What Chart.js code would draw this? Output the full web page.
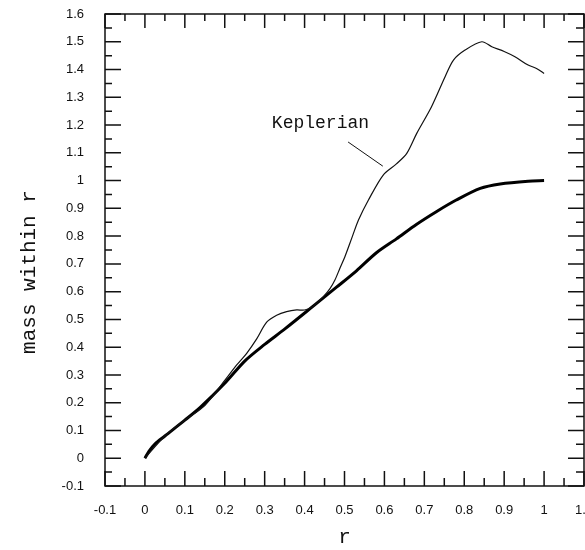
<!DOCTYPE html>
<html>
<head>
<meta charset="utf-8">
<script src="https://cdn.jsdelivr.net/npm/chart.js@4"></script>
<style>
  html, body { margin: 0; padding: 0; background: #fff; }
  #wrap { width: 585px; height: 550px; }
</style>
</head>
<body>
<div id="wrap"><canvas id="myChart" width="585" height="550"></canvas></div>
<script>
// thin curve (Keplerian estimate)
const rKep = [0, 0.05, 0.1, 0.15, 0.2, 0.23, 0.255, 0.28, 0.305, 0.33, 0.355, 0.38, 0.4, 0.42, 0.447, 0.464, 0.476, 0.489, 0.501, 0.52, 0.535, 0.56, 0.597, 0.63, 0.656, 0.681, 0.718, 0.752, 0.773, 0.802, 0.844, 0.869, 0.9, 0.927, 0.96, 0.981, 1.0];
const massKep = [0, 0.08, 0.137, 0.19, 0.28, 0.336, 0.378, 0.43, 0.49, 0.515, 0.528, 0.534, 0.534, 0.546, 0.582, 0.612, 0.642, 0.686, 0.726, 0.80, 0.858, 0.93, 1.02, 1.06, 1.098, 1.17, 1.266, 1.374, 1.434, 1.47, 1.50, 1.482, 1.465, 1.446, 1.416, 1.404, 1.386];

// thick curve (actual mass)
const rMass = [0, 0.01, 0.025, 0.05, 0.1, 0.14, 0.2, 0.25, 0.3, 0.35, 0.42, 0.48, 0.53, 0.58, 0.63, 0.68, 0.73, 0.78, 0.84, 0.89, 0.96, 1.0];
const mass = [0, 0.025, 0.051, 0.08, 0.137, 0.185, 0.27, 0.35, 0.41, 0.465, 0.546, 0.616, 0.675, 0.74, 0.79, 0.842, 0.888, 0.93, 0.972, 0.988, 0.998, 1.0];

const xTickValues = [-0.1, 0, 0.1, 0.2, 0.3, 0.4, 0.5, 0.6, 0.7, 0.8, 0.9, 1.0, 1.1];
const xTickLabels = ['-0.1', '0', '0.1', '0.2', '0.3', '0.4', '0.5', '0.6', '0.7', '0.8', '0.9', '1', '1.1'];
const yTickValues = [-0.1, 0, 0.1, 0.2, 0.3, 0.4, 0.5, 0.6, 0.7, 0.8, 0.9, 1.0, 1.1, 1.2, 1.3, 1.4, 1.5, 1.6];
const yTickLabels = ['-0.1', '0', '0.1', '0.2', '0.3', '0.4', '0.5', '0.6', '0.7', '0.8', '0.9', '1', '1.1', '1.2', '1.3', '1.4', '1.5', '1.6'];

const monoFont = '"Liberation Mono", "DejaVu Sans Mono", monospace';

const toPoints = (xs, ys) => xs.map((x, i) => ({ x: x, y: ys[i] }));

// inward ticks on all four sides + frame + annotation + y title
const framePlugin = {
    id: 'frame',
    afterDatasetsDraw(chart) {
        const ctx = chart.ctx;
        const a = chart.chartArea;
        const xs = chart.scales.x, ys = chart.scales.y;
        ctx.save();
        ctx.strokeStyle = '#111';
        ctx.lineWidth = 1.5;
        ctx.strokeRect(a.left, a.top, a.right - a.left, a.bottom - a.top);

        ctx.beginPath();
        xTickValues.forEach((v, i) => {
            const px = xs.getPixelForValue(v);
            ctx.moveTo(px, a.bottom); ctx.lineTo(px, a.bottom - 15);
            ctx.moveTo(px, a.top); ctx.lineTo(px, a.top + 14);
            if (i < xTickValues.length - 1) {
                const m = xs.getPixelForValue((v + xTickValues[i + 1]) / 2);
                ctx.moveTo(m, a.bottom); ctx.lineTo(m, a.bottom - 8);
                ctx.moveTo(m, a.top); ctx.lineTo(m, a.top + 7);
            }
        });
        yTickValues.forEach((v, i) => {
            const py = ys.getPixelForValue(v);
            ctx.moveTo(a.left, py); ctx.lineTo(a.left + 16, py);
            ctx.moveTo(a.right, py); ctx.lineTo(a.right - 16, py);
            if (i < yTickValues.length - 1) {
                const m = ys.getPixelForValue((v + yTickValues[i + 1]) / 2);
                ctx.moveTo(a.left, m); ctx.lineTo(a.left + 7, m);
                ctx.moveTo(a.right, m); ctx.lineTo(a.right - 8, m);
            }
        });
        ctx.stroke();

        // Keplerian label and pointer
        ctx.lineWidth = 1;
        ctx.beginPath();
        ctx.moveTo(xs.getPixelForValue(0.509), ys.getPixelForValue(1.139));
        ctx.lineTo(xs.getPixelForValue(0.596), ys.getPixelForValue(1.052));
        ctx.stroke();
        ctx.fillStyle = '#111';
        ctx.font = '18px ' + monoFont;
        ctx.textAlign = 'left';
        ctx.textBaseline = 'middle';
        ctx.fillText('Keplerian', xs.getPixelForValue(0.318), ys.getPixelForValue(1.207));

        // y axis title
        ctx.save();
        ctx.font = '21px ' + monoFont;
        ctx.translate(29, 272);
        ctx.rotate(-Math.PI / 2);
        ctx.textAlign = 'center';
        ctx.fillText('mass within r', 0, 0);
        ctx.restore();
        ctx.restore();
    }
};

const data = {
    datasets: [
        {
            label: 'Keplerian',
            data: toPoints(rKep, massKep),
            borderColor: '#111',
            borderWidth: 1.2,
            pointRadius: 0,
            tension: 0.3
        },
        {
            label: 'mass within r',
            data: toPoints(rMass, mass),
            borderColor: '#000',
            borderWidth: 3,
            pointRadius: 0,
            tension: 0.3
        }
    ]
};

const config = {
    type: 'line',
    data: data,
    options: {
        responsive: false,
        animation: false,
        layout: { padding: { top: 14, right: 1, left: 0, bottom: 0 } },
        plugins: {
            legend: { display: false },
            tooltip: { enabled: false }
        },
        scales: {
            x: {
                type: 'linear',
                min: -0.1,
                max: 1.1,
                afterBuildTicks: (scale) => { scale.ticks = xTickValues.map(v => ({ value: v })); },
                afterFit: (scale) => { scale.height = 64; scale.paddingLeft = 0; scale.paddingRight = 0; },
                grid: { display: false },
                border: { display: false },
                ticks: {
                    color: '#111',
                    font: { family: '"Liberation Sans", Arial, sans-serif', size: 13 },
                    padding: 9,
                    maxRotation: 0,
                    autoSkip: false,
                    callback: (value, index) => xTickLabels[index]
                },
                title: {
                    display: true,
                    text: 'r',
                    color: '#111',
                    font: { family: monoFont, size: 21 },
                    padding: { top: 0, bottom: 0 }
                }
            },
            y: {
                type: 'linear',
                min: -0.1,
                max: 1.6,
                afterBuildTicks: (scale) => { scale.ticks = yTickValues.map(v => ({ value: v })); },
                afterFit: (scale) => { scale.width = 105; scale.paddingTop = 0; scale.paddingBottom = 0; },
                grid: { display: false },
                border: { display: false },
                ticks: {
                    color: '#111',
                    font: { family: '"Liberation Sans", Arial, sans-serif', size: 13 },
                    padding: 13,
                    autoSkip: false,
                    callback: (value, index) => yTickLabels[index]
                }
            }
        }
    },
    plugins: [framePlugin]
};

const myChart = new Chart(document.getElementById('myChart'), config);
</script>
</body>
</html>
